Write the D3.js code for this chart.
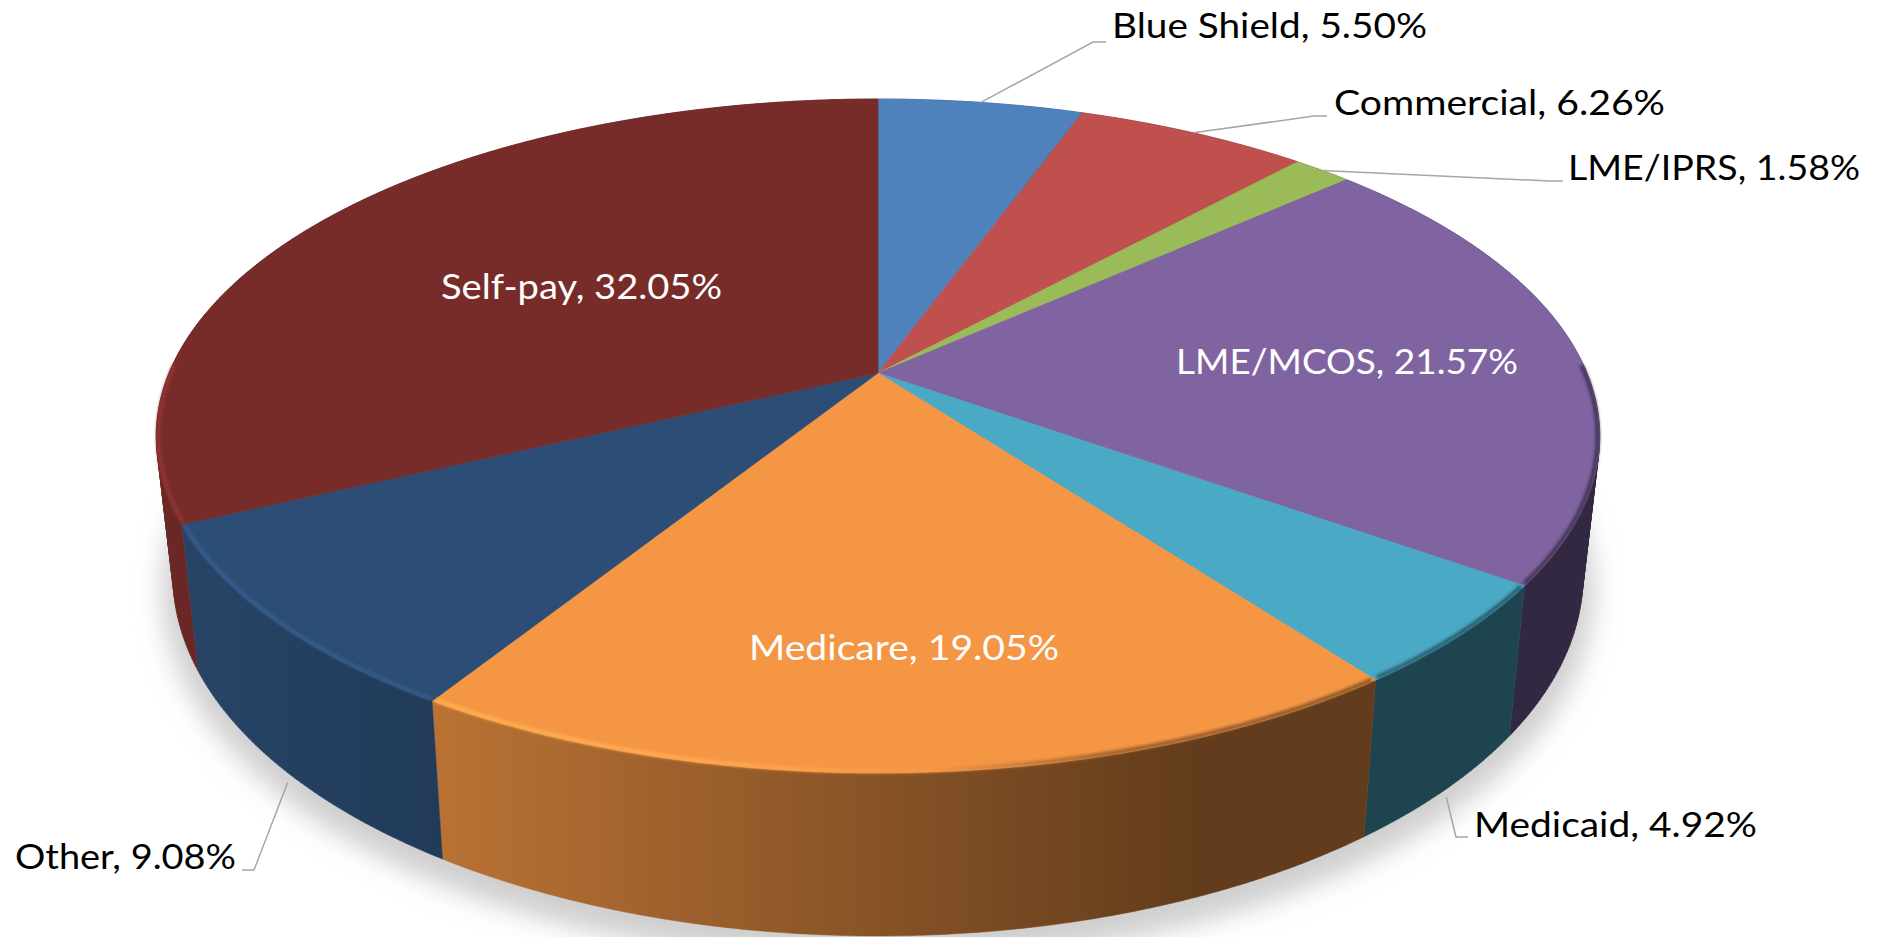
<!DOCTYPE html>
<html>
<head>
    <meta charset="utf-8">
    <title>Payer mix pie</title>
    <script src="https://d3js.org/d3.v7.min.js"></script>
    <style>
        html, body { margin: 0; padding: 0; background: #ffffff; overflow: hidden; }
        svg { display: block; }
        text { font-family: Lato, "Open Sans", sans-serif; font-size: 35px; }
    </style>
</head>
<body>
    <script>
        const categories = ["Blue Shield", "Commercial", "LME/IPRS", "LME/MCOS", "Medicaid", "Medicare", "Other", "Self-pay"];
        const shares = [5.50, 6.26, 1.58, 21.57, 4.92, 19.05, 9.08, 32.05];
        const colors = ["#4f81bd", "#c0504d", "#9bbb59", "#8064a2", "#4aa9c5", "#f59645", "#2c4d75", "#772c2a"];

        const width = 1880, height = 937;

        // placement of the labels: left x, baseline, text width, elbow and end of the leader
        const labelLayout = [
            { x: 1112, y: 38, w: 315, elbow: [1093, 42], end: [1106, 42], color: "#000" },
            { x: 1334, y: 115, w: 331, elbow: [1314, 116], end: [1327, 116], color: "#000" },
            { x: 1568, y: 180, w: 292, elbow: [1550, 181], end: [1563, 181], color: "#000" },
            { x: 1176, y: 374, w: 342, color: "#fff" },
            { x: 1474, y: 837, w: 283, elbow: [1456, 837], end: [1468, 837], color: "#000", gap: 8 },
            { x: 749, y: 660, w: 310, color: "#fff" },
            { x: 15, y: 869, w: 221, elbow: [254, 870], end: [242, 870], color: "#000", gap: 10 },
            { x: 441, y: 299, w: 281, color: "#fff" }
        ];

        // the disc is seen in perspective, so top and bottom rims are two projected circles
        const persp = -0.18694;
        const topRim = { cx: 878, k: 709, a: 255.5, b: 373 };
        const bottomRim = { cx: 878, k: 692.5, a: 252.3, b: 508.7 };

        function project(rim, angle) {
            var u = Math.sin(angle), v = -Math.cos(angle);
            var w = persp * v + 1;
            return [rim.cx + rim.k * u / w, (rim.a * v + rim.b) / w];
        }

        function arcPoints(rim, start, end) {
            var n = Math.max(2, Math.ceil((end - start) / 0.01));
            return d3.range(n + 1).map(i => project(rim, start + (end - start) * i / n));
        }

        var pie = d3.pie().sort(null).value(d => d.share)
            .startAngle(0).endAngle(2 * Math.PI);
        var slices = pie(categories.map((c, i) => ({ name: c, share: shares[i], color: colors[i], i: i })));
        var line = d3.line();

        // wall of one slice as many small quads, all wound the same way so the fill is their union
        function wallPath(d) {
            var t = arcPoints(topRim, d.startAngle, d.endAngle);
            var b = arcPoints(bottomRim, d.startAngle, d.endAngle);
            var out = "";
            for (var i = 0; i < t.length - 1; i++) {
                var quad = [t[i], t[i + 1], b[i + 1], b[i]];
                if (d3.polygonArea(quad) < 0) quad.reverse();
                out += line(quad) + "Z";
            }
            return out;
        }

        var svg = d3.select("body").append("svg")
            .attr("width", width)
            .attr("height", height);

        var defs = svg.append("defs");

        defs.append("filter").attr("id", "shadowBlur")
            .attr("x", "-10%").attr("y", "-10%").attr("width", "120%").attr("height", "120%")
            .append("feGaussianBlur").attr("stdDeviation", 13);

        defs.append("filter").attr("id", "rimBlur")
            .attr("filterUnits", "userSpaceOnUse")
            .attr("x", 0).attr("y", 0).attr("width", width).attr("height", height)
            .append("feGaussianBlur").attr("stdDeviation", 1.7);

        function scaled(hex, f) {
            var c = d3.rgb(hex);
            return d3.rgb(Math.min(255, c.r * f), Math.min(255, c.g * f), Math.min(255, c.b * f)).formatHex();
        }

        // light falls from the left, the wall gets darker going right
        const wallShade = [[150, 0.9], [435, 0.76], [1200, 0.4], [1610, 0.4]];
        const rimShade = [[150, 1.2], [700, 1.14], [930, 1.0], [1120, 0.62], [1610, 0.5]];

        function gradient(id, hex, stops) {
            var g = defs.append("linearGradient").attr("id", id)
                .attr("gradientUnits", "userSpaceOnUse")
                .attr("x1", 150).attr("x2", 1610).attr("y1", 0).attr("y2", 0);
            stops.forEach(s => {
                g.append("stop")
                    .attr("offset", (s[0] - 150) / (1610 - 150))
                    .attr("stop-color", scaled(hex, s[1]));
            });
        }

        slices.forEach(s => {
            gradient("wall" + s.data.i, s.data.color, wallShade);
            gradient("rim" + s.data.i, s.data.color, rimShade);
        });

        // soft shadow under the disc
        svg.append("ellipse")
            .attr("cx", 878).attr("cy", 590)
            .attr("rx", 716).attr("ry", 372)
            .attr("fill", "#cfcfcf")
            .attr("filter", "url(#shadowBlur)");

        // walls
        svg.append("g").selectAll("path")
            .data(slices)
            .join("path")
            .attr("d", wallPath)
            .attr("fill", d => "url(#wall" + d.data.i + ")")
            .attr("stroke", d => "url(#wall" + d.data.i + ")")
            .attr("stroke-width", 0.5);

        // top face
        svg.append("g").selectAll("path")
            .data(slices)
            .join("path")
            .attr("d", d => line([[topRim.cx, topRim.b]]
                .concat(arcPoints(topRim, d.startAngle, d.endAngle))) + "Z")
            .attr("fill", d => d.data.color)
            .attr("stroke", d => d.data.color)
            .attr("stroke-width", 0.6);

        // bevel along the front rim
        var front = [Math.PI / 2 - 0.03, 3 * Math.PI / 2 + 0.03];
        svg.append("g").attr("filter", "url(#rimBlur)").selectAll("path")
            .data(slices.filter(d => d.endAngle > front[0] && d.startAngle < front[1]))
            .join("path")
            .attr("d", d => line(arcPoints(topRim, Math.max(d.startAngle, front[0]) + 0.004, Math.min(d.endAngle, front[1]) - 0.004)
                .map(p => [p[0] + (878 - p[0]) * 0.003, p[1] + (436 - p[1]) * 0.006])))
            .attr("fill", "none")
            .attr("stroke", d => "url(#rim" + d.data.i + ")")
            .attr("stroke-width", 4);

        // leader lines
        svg.append("g").selectAll("path")
            .data(slices.filter(d => labelLayout[d.data.i].elbow))
            .join("path")
            .attr("d", d => {
                var l = labelLayout[d.data.i];
                var mid = (d.startAngle + d.endAngle) / 2;
                var p = project(l.gap ? bottomRim : topRim, mid);
                return line([[p[0], p[1] + (l.gap || 0)], l.elbow, l.end]);
            })
            .attr("fill", "none")
            .attr("stroke", "#a6a6a6")
            .attr("stroke-width", 1.5);

        // labels
        svg.append("g").selectAll("text")
            .data(slices)
            .join("text")
            .attr("x", d => labelLayout[d.data.i].x)
            .attr("y", d => labelLayout[d.data.i].y)
            .attr("fill", d => labelLayout[d.data.i].color)
            .attr("textLength", d => labelLayout[d.data.i].w)
            .attr("lengthAdjust", "spacingAndGlyphs")
            .text(d => d.data.name + ", " + d.data.share.toFixed(2) + "%");
    </script>
</body>
</html>
